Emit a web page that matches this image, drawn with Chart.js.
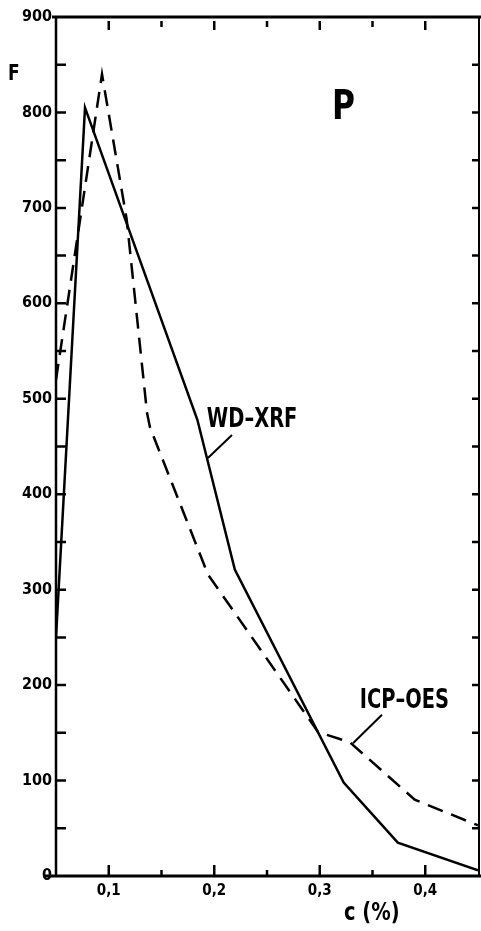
<!DOCTYPE html>
<html>
<head>
<meta charset="utf-8">
<script src="https://cdn.jsdelivr.net/npm/chart.js@4"></script>
<style>
  html, body { margin: 0; padding: 0; background: #fff; }
  #wrap { width: 481px; height: 931px; position: relative; }
</style>
</head>
<body>
<div id="wrap"><canvas id="lineChart"></canvas></div>
<script>
// concentration c (%) and F values
var xdLabels = [0.1, 0.2, 0.3, 0.4];
var yTicks = [0, 100, 200, 300, 400, 500, 600, 700, 800, 900];

var wdxrfC = [0.05, 0.0775, 0.184, 0.2195, 0.3227, 0.374, 0.45];
var wdxrfF = [250, 805, 478, 321, 98, 35, 6];

var icpC = [0.05, 0.0936, 0.117, 0.1363, 0.1391, 0.194, 0.2983, 0.3287, 0.390, 0.45];
var icpF = [520, 840, 688, 485, 470, 316, 151, 140, 80, 53];

var FONT = "'DejaVu Sans Condensed', 'Liberation Sans Narrow', sans-serif";

function toPoints(xs, ys) {
  var pts = [];
  for (var i = 0; i < xs.length; i++) {
    pts.push({x: xs[i], y: ys[i]});
  }
  return pts;
}

// text squeezed sideways, the figure uses a narrow bold face
function narrowText(ctx, text, x, y, sx) {
  ctx.save();
  ctx.translate(x, y);
  ctx.scale(sx, 1);
  ctx.fillText(text, 0, 0);
  ctx.restore();
}

// frame, inward ticks and the text labels of the figure
var framePlugin = {
  id: 'frame',
  afterDraw: function(chart) {
    var ctx = chart.ctx;
    var xs = chart.scales.x, ys = chart.scales.y;
    var a = chart.chartArea;
    var i, v, px, py;
    ctx.save();
    ctx.strokeStyle = '#000';
    ctx.lineCap = 'butt';

    ctx.lineWidth = 3;
    ctx.beginPath();
    ctx.moveTo(45, a.bottom); ctx.lineTo(481, a.bottom);
    ctx.moveTo(52, a.top); ctx.lineTo(481, a.top);
    ctx.stroke();

    ctx.lineWidth = 2.5;
    ctx.beginPath();
    ctx.moveTo(a.left, a.top); ctx.lineTo(a.left, a.bottom);
    ctx.stroke();
    ctx.lineWidth = 2;
    ctx.beginPath();
    ctx.moveTo(a.right + 1, a.top); ctx.lineTo(a.right + 1, a.bottom);
    ctx.stroke();

    // y ticks every 50, both sides
    ctx.lineWidth = 2.5;
    ctx.beginPath();
    for (v = 50; v < 900; v += 50) {
      py = ys.getPixelForValue(v);
      ctx.moveTo(a.left, py); ctx.lineTo(a.left + 10, py);
      ctx.moveTo(a.right + 1, py); ctx.lineTo(a.right - 6, py);
    }
    ctx.stroke();

    // x ticks, bottom and top
    ctx.beginPath();
    for (i = 2; i <= 8; i++) {
      v = i * 0.05;
      px = xs.getPixelForValue(v);
      var major = (i % 2 == 0);
      ctx.moveTo(px, a.bottom); ctx.lineTo(px, a.bottom - (major ? 11 : 6));
      ctx.moveTo(px, a.top + 4); ctx.lineTo(px, a.top + (major ? 13 : 10));
    }
    ctx.stroke();

    // leader lines
    ctx.lineWidth = 2;
    ctx.beginPath();
    ctx.moveTo(xs.getPixelForValue(0.2168), ys.getPixelForValue(462));
    ctx.lineTo(xs.getPixelForValue(0.194), ys.getPixelForValue(438));
    ctx.moveTo(xs.getPixelForValue(0.359), ys.getPixelForValue(169));
    ctx.lineTo(xs.getPixelForValue(0.3315), ys.getPixelForValue(139));
    ctx.stroke();

    ctx.fillStyle = '#000';
    ctx.textBaseline = 'alphabetic';
    ctx.textAlign = 'left';
    ctx.font = 'bold 27px ' + FONT;
    narrowText(ctx, 'WD\u2013XRF', xs.getPixelForValue(0.193), ys.getPixelForValue(470), 0.8);
    narrowText(ctx, 'ICP\u2013OES', xs.getPixelForValue(0.338), ys.getPixelForValue(176), 0.8);
    ctx.font = 'bold 41px ' + FONT;
    narrowText(ctx, 'P', 332, 119, 0.85);
    ctx.font = 'bold 21px ' + FONT;
    narrowText(ctx, 'F', 8, 80, 0.9);
    ctx.font = 'bold 24px ' + FONT;
    narrowText(ctx, 'c (%)', 344, 920, 0.9);
    ctx.restore();
  }
};

var ctx = document.getElementById("lineChart").getContext("2d");
new Chart(ctx, {
  type: 'scatter',
  data: {
    datasets: [{
      label: 'WD-XRF',
      data: toPoints(wdxrfC, wdxrfF),
      showLine: true,
      borderColor: '#000',
      borderWidth: 2.5,
      pointRadius: 0,
      tension: 0
    }, {
      label: 'ICP-OES',
      data: toPoints(icpC, icpF),
      showLine: true,
      borderColor: '#000',
      borderWidth: 2.5,
      borderDash: [16, 9],
      pointRadius: 0,
      tension: 0
    }]
  },
  options: {
    responsive: true,
    maintainAspectRatio: false,
    animation: false,
    layout: { padding: { top: 17, right: 3, bottom: 0, left: 0 } },
    plugins: { legend: { display: false }, tooltip: { enabled: false } },
    scales: {
      x: {
        type: 'linear',
        min: 0.05,
        max: 0.45,
        grid: { display: false, drawTicks: false },
        border: { display: false },
        afterBuildTicks: function(scale) {
          scale.ticks = xdLabels.map(function(v) { return {value: v}; });
        },
        afterFit: function(scale) { scale.height = 55; },
        ticks: {
          padding: 6,
          color: '#000',
          maxRotation: 0,
          font: { family: FONT, size: 15, weight: 'bold' },
          callback: function(v) { return v.toFixed(1).replace('.', ','); }
        }
      },
      y: {
        min: 0,
        max: 900,
        grid: { display: false, drawTicks: false },
        border: { display: false },
        afterBuildTicks: function(scale) {
          scale.ticks = yTicks.map(function(v) { return {value: v}; });
        },
        afterFit: function(scale) { scale.width = 56; },
        ticks: {
          padding: 4,
          color: '#000',
          font: { family: FONT, size: 16, weight: 'bold' }
        }
      }
    }
  },
  plugins: [framePlugin]
});
</script>
</body>
</html>
